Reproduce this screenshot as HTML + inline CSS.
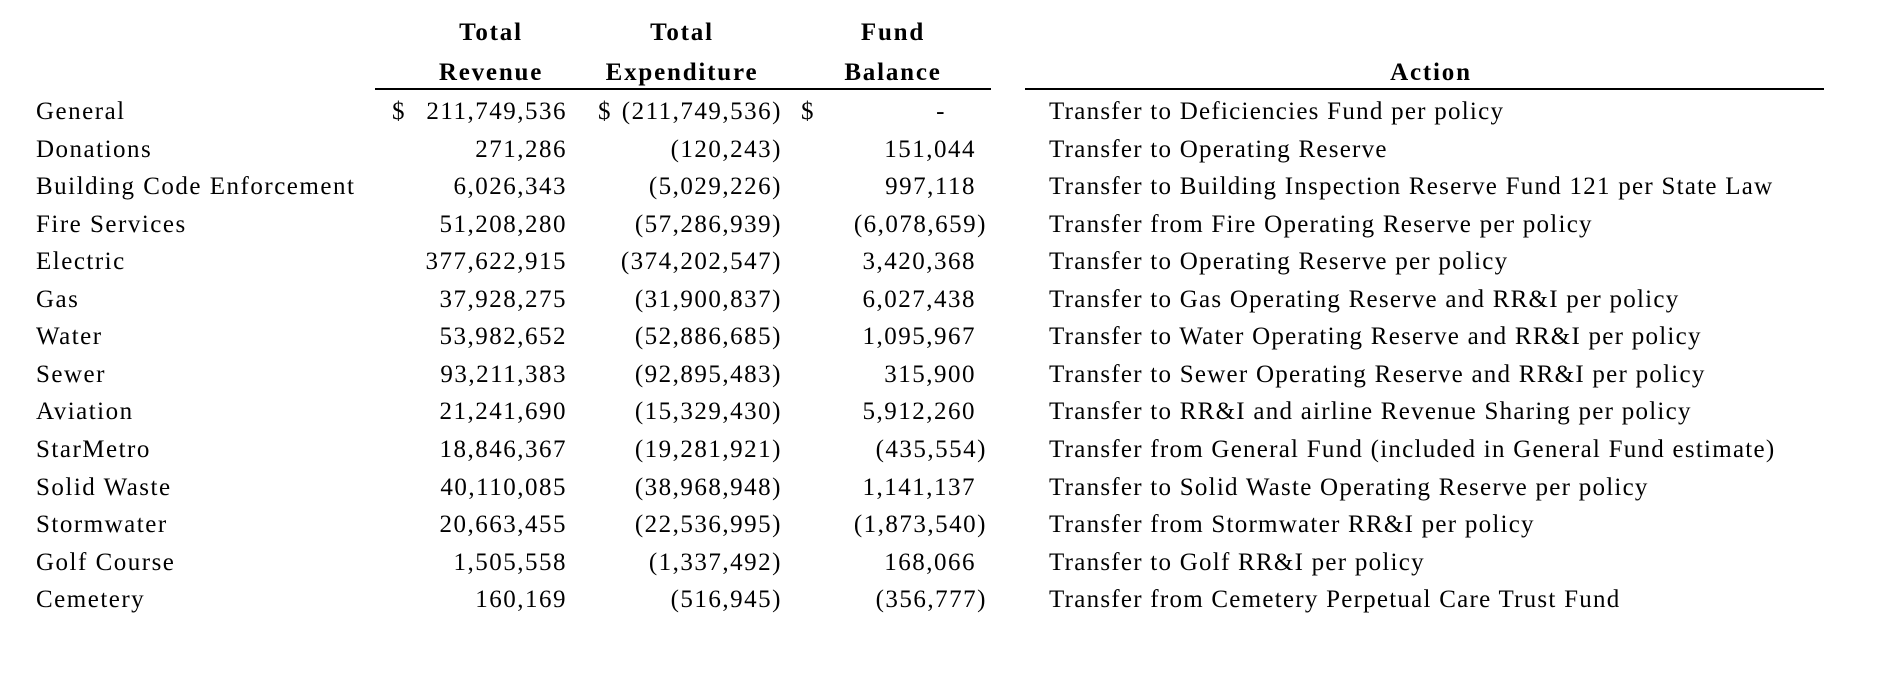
<!DOCTYPE html>
<html><head><meta charset="utf-8"><style>
html,body{margin:0;padding:0;background:#fff;}
body{width:1891px;height:682px;position:relative;overflow:hidden;font-family:"Liberation Serif",serif;font-size:25px;color:#000;}
.t{position:absolute;white-space:nowrap;line-height:30px;letter-spacing:1.5px;}
.h{font-weight:bold;transform:translateX(-50%);letter-spacing:1.8px;}
.r{transform:translateX(-100%);}
.a{letter-spacing:1.25px;}
.ln{position:absolute;height:2px;background:#000;}
</style></head><body>
<div class="t h" style="left:491px;top:18px">Total</div>
<div class="t h" style="left:682px;top:18px">Total</div>
<div class="t h" style="left:893px;top:18px">Fund</div>
<div class="t h" style="left:491px;top:58px">Revenue</div>
<div class="t h" style="left:682px;top:58px">Expenditure</div>
<div class="t h" style="left:893px;top:58px">Balance</div>
<div class="t h" style="left:1431px;top:58px">Action</div>
<div class="ln" style="left:375px;width:616px;top:88px"></div>
<div class="ln" style="left:1025px;width:799px;top:88px"></div>
<div id="rows"></div>
<script>
var d=[["General","211,749,536","(211,749,536)","-","Transfer to Deficiencies Fund per policy"],
["Donations","271,286","(120,243)","151,044","Transfer to Operating Reserve"],
["Building Code Enforcement","6,026,343","(5,029,226)","997,118","Transfer to Building Inspection Reserve Fund 121 per State Law"],
["Fire Services","51,208,280","(57,286,939)","(6,078,659)","Transfer from Fire Operating Reserve per policy"],
["Electric","377,622,915","(374,202,547)","3,420,368","Transfer to Operating Reserve per policy"],
["Gas","37,928,275","(31,900,837)","6,027,438","Transfer to Gas Operating Reserve and RR&amp;I per policy"],
["Water","53,982,652","(52,886,685)","1,095,967","Transfer to Water Operating Reserve and RR&amp;I per policy"],
["Sewer","93,211,383","(92,895,483)","315,900","Transfer to Sewer Operating Reserve and RR&amp;I per policy"],
["Aviation","21,241,690","(15,329,430)","5,912,260","Transfer to RR&amp;I and airline Revenue Sharing per policy"],
["StarMetro","18,846,367","(19,281,921)","(435,554)","Transfer from General Fund (included in General Fund estimate)"],
["Solid Waste","40,110,085","(38,968,948)","1,141,137","Transfer to Solid Waste Operating Reserve per policy"],
["Stormwater","20,663,455","(22,536,995)","(1,873,540)","Transfer from Stormwater RR&amp;I per policy"],
["Golf Course","1,505,558","(1,337,492)","168,066","Transfer to Golf RR&amp;I per policy"],
["Cemetery","160,169","(516,945)","(356,777)","Transfer from Cemetery Perpetual Care Trust Fund"]];
var h="";
d.forEach(function(r,i){
 var y=97+i*37.55;
 h+='<div class="t" style="left:36px;top:'+y+'px">'+r[0]+'</div>';
 h+='<div class="t r" style="left:567px;top:'+y+'px">'+r[1]+'</div>';
 h+='<div class="t r" style="left:782px;top:'+y+'px">'+r[2]+'</div>';
 var fr=r[3].charAt(0)=="("?987:(r[3]=="-"?946:976);
 h+='<div class="t r" style="left:'+fr+'px;top:'+y+'px">'+r[3]+'</div>';
 h+='<div class="t a" style="left:1049px;top:'+y+'px">'+r[4]+'</div>';
 if(i==0){
  h+='<div class="t" style="left:392px;top:'+y+'px">$</div>';
  h+='<div class="t" style="left:598px;top:'+y+'px">$</div>';
  h+='<div class="t" style="left:801px;top:'+y+'px">$</div>';
 }
});
document.getElementById("rows").innerHTML=h;
</script>
</body></html>
